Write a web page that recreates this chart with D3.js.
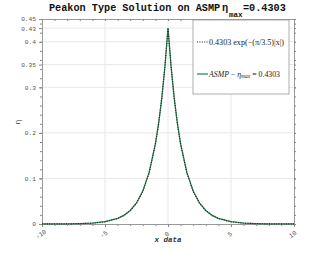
<!DOCTYPE html>
<html>
<head>
<meta charset="utf-8">
<script src="https://cdn.jsdelivr.net/npm/d3@7"></script>
<style>
  body { margin: 0; background: #fff; }
  svg { display: block; }
</style>
</head>
<body>
<svg id="chart" width="325" height="253"></svg>
<script>
var xs = [-10, -8, -7, -6, -5, -4, -3.5, -3, -2.5, -2, -1.5, -1, -0.75, -0.5, -0.25, 0,
          0.25, 0.5, 0.75, 1, 1.5, 2, 2.5, 3, 3.5, 4, 5, 6, 7, 8, 10];
var etaFit = [0.0001, 0.0003, 0.0008, 0.002, 0.0048, 0.0119, 0.0186, 0.0291, 0.0456, 0.0715, 0.112, 0.1754, 0.2195, 0.2747, 0.3438, 0.4303,
              0.3438, 0.2747, 0.2195, 0.1754, 0.112, 0.0715, 0.0456, 0.0291, 0.0186, 0.0119, 0.0048, 0.002, 0.0008, 0.0003, 0.0001];
var etaAsmp = [0.0001, 0.0003, 0.0009, 0.0021, 0.005, 0.0122, 0.019, 0.0296, 0.0462, 0.0722, 0.1128, 0.176, 0.2198, 0.2748, 0.3436, 0.4303,
               0.3436, 0.2748, 0.2198, 0.176, 0.1128, 0.0722, 0.0462, 0.0296, 0.019, 0.0122, 0.005, 0.0021, 0.0009, 0.0003, 0.0001];
var xTicks = [-10, -5, 0, 5, 10];
var yTicks = [0, 0.1, 0.2, 0.3, 0.35, 0.4, 0.43, 0.45];
var legendLabels = ["0.4303 exp(\u2212(\u03c0/3.5)|x|)", "ASMP \u2212 \u03b7max = 0.4303"];

var svg = d3.select("#chart");
var margin = {left: 42, right: 31, top: 19, bottom: 29};
var width = 325 - margin.left - margin.right,
    height = 253 - margin.top - margin.bottom;

var x = d3.scaleLinear().domain([-10, 10]).range([margin.left, margin.left + width]);
var y = d3.scaleLinear().domain([0, 0.45]).range([margin.top + height, margin.top]);

var mono = "'Liberation Mono', 'DejaVu Sans Mono', monospace";
var serif = "'Liberation Serif', 'DejaVu Serif', serif";

// grid
var grid = svg.append("g").attr("stroke", "#e8e8e8").attr("stroke-width", 1);
grid.selectAll(".gx").data(xTicks.slice(1, -1)).enter().append("line")
    .attr("x1", d => x(d)).attr("x2", d => x(d))
    .attr("y1", y(0)).attr("y2", y(0.45));
grid.selectAll(".gy").data(yTicks.slice(1, -1)).enter().append("line")
    .attr("y1", d => y(d)).attr("y2", d => y(d))
    .attr("x1", x(-10)).attr("x2", x(10));

// axes
var minorX = d3.range(-10, 10.01, 1);
var minorY = d3.range(0, 0.451, 0.02);

var axBottom = svg.append("g").attr("transform", "translate(0," + y(0) + ")")
    .call(d3.axisBottom(x).tickValues(minorX).tickSize(2).tickFormat(""));
var axTop = svg.append("g").attr("transform", "translate(0," + y(0.45) + ")")
    .call(d3.axisBottom(x).tickValues(minorX).tickSize(2).tickFormat(""));
var axLeft = svg.append("g").attr("transform", "translate(" + x(-10) + ",0)")
    .call(d3.axisLeft(y).tickValues(minorY).tickSize(2).tickFormat(""));
var axLeftMajor = svg.append("g").attr("transform", "translate(" + x(-10) + ",0)")
    .call(d3.axisLeft(y).tickValues(yTicks).tickSize(3).tickPadding(3).tickFormat(d3.format("")));
var axRight = svg.append("g").attr("transform", "translate(" + x(10) + ",0)")
    .call(d3.axisRight(y).tickValues(minorY.concat(yTicks)).tickSize(2).tickFormat(""));
var axBottomMajor = svg.append("g").attr("transform", "translate(0," + y(0) + ")")
    .call(d3.axisBottom(x).tickValues(xTicks).tickSize(3).tickFormat(""));

[axBottom, axTop, axLeft, axLeftMajor, axRight, axBottomMajor].forEach(function(g) {
    g.selectAll("line").attr("stroke", "#888");
    g.select(".domain").attr("stroke", "#999");
});
axLeftMajor.selectAll("text")
    .attr("font-family", mono).attr("font-size", 6.2).attr("fill", "#555");

// rotated x tick labels
svg.append("g").selectAll("text").data(xTicks).enter().append("text")
    .attr("transform", d => "translate(" + x(d) + "," + (y(0) + 12) + ") rotate(-35)")
    .attr("text-anchor", "middle")
    .attr("font-family", mono).attr("font-size", 6.5).attr("fill", "#555")
    .text(d => d);

// curves
var line = d3.line().x((d, i) => x(xs[i])).y(d => y(d));
svg.append("path").datum(etaAsmp).attr("d", line)
    .attr("fill", "none").attr("stroke", "#2e8b57").attr("stroke-width", 1.3);
svg.append("path").datum(etaFit).attr("d", line)
    .attr("fill", "none").attr("stroke", "#222").attr("stroke-width", 1.2)
    .attr("stroke-dasharray", "1,1.4");

// legend
var lg = svg.append("g");
lg.append("rect").attr("x", 193).attr("y", 20).attr("width", 96).attr("height", 74)
    .attr("fill", "#fff").attr("stroke", "#999").attr("stroke-width", 0.8);
lg.append("line").attr("x1", 197).attr("x2", 208).attr("y1", 42).attr("y2", 42)
    .attr("stroke", "#222").attr("stroke-width", 1.2).attr("stroke-dasharray", "1,1.4");
lg.append("text").attr("x", 209).attr("y", 44.5)
    .attr("font-family", serif).attr("font-size", 7.8).attr("fill", "#222")
    .attr("textLength", 75).attr("lengthAdjust", "spacingAndGlyphs")
    .text(legendLabels[0]);
lg.append("line").attr("x1", 197).attr("x2", 208).attr("y1", 74).attr("y2", 74)
    .attr("stroke", "#2e8b57").attr("stroke-width", 1.3);
var t2 = lg.append("text").attr("x", 209).attr("y", 76.5)
    .attr("font-family", serif).attr("font-size", 7.8).attr("fill", "#222");
t2.append("tspan").attr("font-style", "italic").text("ASMP");
t2.append("tspan").text(" \u2212 ");
t2.append("tspan").attr("font-style", "italic").text("\u03b7");
t2.append("tspan").attr("font-style", "italic").attr("font-size", 5.5).attr("dy", 1.5).text("max");
t2.append("tspan").attr("dy", -1.5).text(" = 0.4303");

// title
svg.append("text").attr("x", 49).attr("y", 11)
    .attr("font-family", mono).attr("font-weight", "bold").attr("font-size", 10.2).attr("fill", "#111")
    .text("Peakon Type Solution on ASMP");
svg.append("text").attr("x", 222).attr("y", 11)
    .attr("font-family", mono).attr("font-weight", "bold").attr("font-size", 10.2).attr("fill", "#111")
    .text("\u03b7");
svg.append("text").attr("x", 229).attr("y", 17)
    .attr("font-family", mono).attr("font-weight", "bold").attr("font-size", 7.5).attr("fill", "#111")
    .text("max");
svg.append("text").attr("x", 243).attr("y", 11)
    .attr("font-family", mono).attr("font-weight", "bold").attr("font-size", 10.2).attr("fill", "#111")
    .text("=0.4303");

// axis labels
svg.append("text").attr("x", 168).attr("y", 242).attr("text-anchor", "middle")
    .attr("font-family", mono).attr("font-weight", "bold").attr("font-style", "italic")
    .attr("font-size", 7.5).attr("fill", "#333").text("x data");
svg.append("text").attr("transform", "translate(20,122) rotate(-90)").attr("text-anchor", "middle")
    .attr("font-family", mono).attr("font-size", 8).attr("fill", "#333").text("\u03b7");
</script>
</body>
</html>
